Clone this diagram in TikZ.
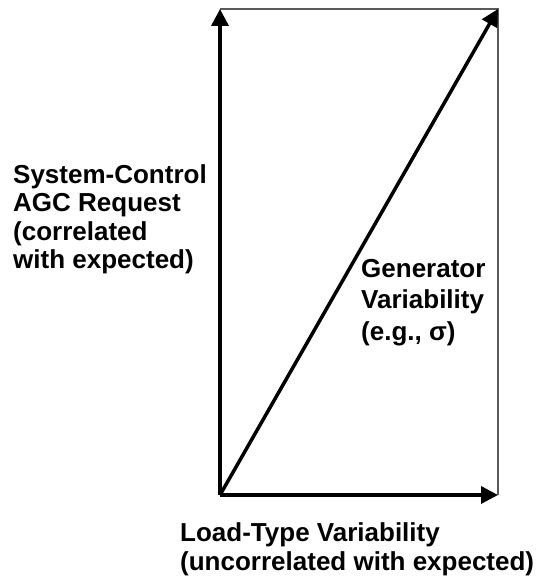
\documentclass[tikz,border=0pt]{standalone}
\usepackage{fontspec}
\setmainfont{Liberation Sans}
\usetikzlibrary{arrows.meta}
\begin{document}
\begin{tikzpicture}[x=1pt,y=-1pt,
  axis/.style={line width=3.5pt,-{Triangle[length=17pt,width=17pt]}},
  frame/.style={line width=1.3pt,draw=black!65},
  lbl/.style={inner sep=0pt,anchor=base west,font=\bfseries\fontsize{26pt}{28pt}\selectfont}]
\useasboundingbox (0,0) rectangle (544,577);
\coordinate (O) at (220,495);
\coordinate (T) at (220,9);
\coordinate (R) at (498,495);
\coordinate (C) at (498,9);
\draw[frame] (T) -- (C) -- (R);
\draw[axis] (O) -- (T);
\draw[axis] (O) -- (R);
\draw[axis] (O) -- (C);
\node[lbl] (sys1) at (13,183.5) {System-Control};
\node[lbl] (sys2) at (13,211.8) {AGC Request};
\node[lbl] (sys3) at (13,240.1) {(correlated};
\node[lbl] (sys4) at (13,268.4) {with expected)};
\node[lbl] (gen1) at (361,277) {Generator};
\node[lbl] (gen2) at (361,308.5) {Variability};
\node[lbl] (gen3) at (361,340) {(e.g., σ)};
\node[lbl] (load1) at (180,541) {Load-Type Variability};
\node[lbl] (load2) at (180,570) {(uncorrelated with expected)};
\end{tikzpicture}
\end{document}
